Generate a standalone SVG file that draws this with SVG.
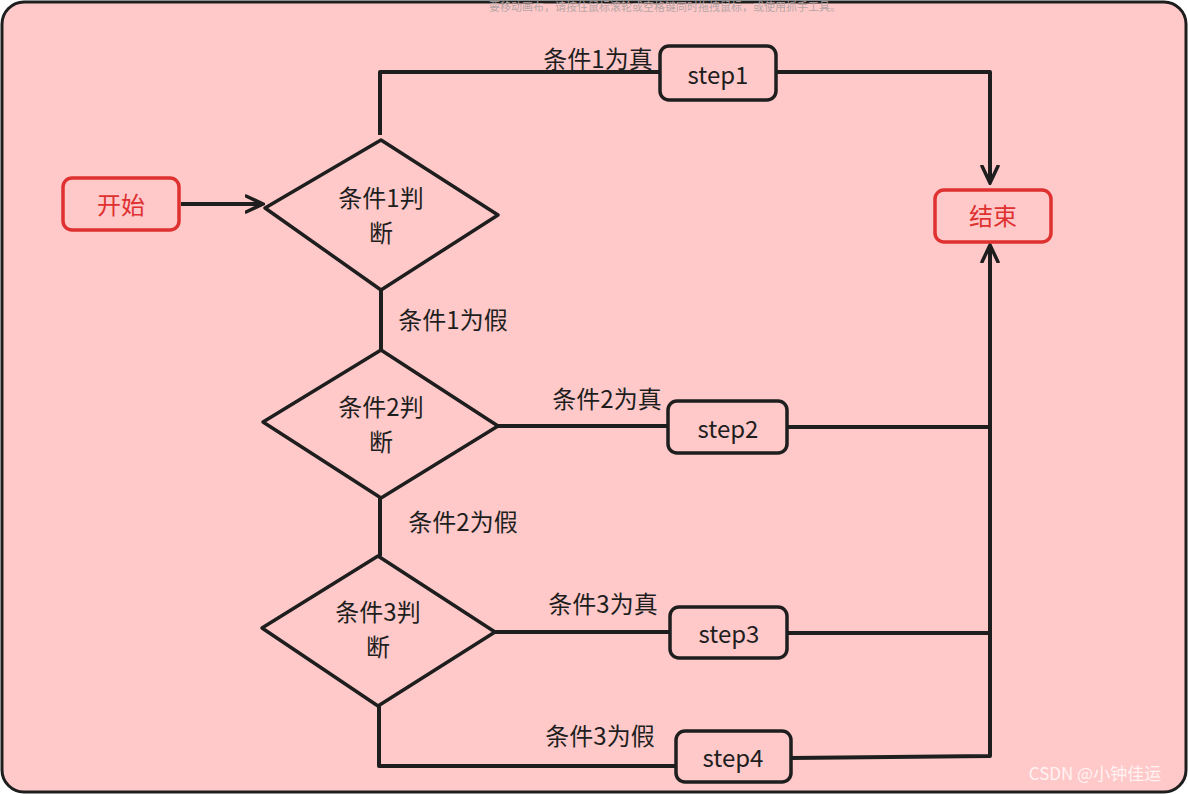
<svg xmlns="http://www.w3.org/2000/svg" width="1188" height="794" viewBox="0 0 1188 794">
<defs>
<style>
.n{fill:none;stroke:#1e1e1e;stroke-width:3.5;stroke-linejoin:round}
.r{fill:none;stroke:#e03131;stroke-width:3.5}
.t{font-family:"Noto Sans CJK SC","Noto Sans",sans-serif;font-size:24px;fill:#1e1e1e;text-anchor:middle;dominant-baseline:central}
.c{fill:none;stroke:#1e1e1e;stroke-width:4;stroke-linejoin:round}
</style>
<marker id="a" markerWidth="20" markerHeight="20" refX="17" refY="10" orient="auto" markerUnits="userSpaceOnUse"><path d="M1,2 L18,10 L1,18" fill="none" stroke="#1e1e1e" stroke-width="3.5" stroke-linecap="round"/></marker>
</defs>
<rect x="2" y="2" width="1184" height="790" rx="22" fill="#ffc9c9" stroke="#1e1e1e" stroke-width="3"/>
<text x="665" y="11" font-family="Noto Sans CJK SC,sans-serif" font-size="11" fill="#b5a5a5" text-anchor="middle">要移动画布，请按住鼠标滚轮或空格键同时拖拽鼠标，或使用抓手工具。</text>
<g id="connectors">
<path class="c" d="M181,204 L262,204" marker-end="url(#a)"/>
<path class="c" d="M380,135 L380,72 L660,72"/>
<path class="c" d="M776,72 L990,72 L990,182" marker-end="url(#a)"/>
<path class="c" d="M381,290 L381,350"/>
<path class="c" d="M498,426 L668,426"/>
<path class="c" d="M787,427 L990,427"/>
<path class="c" d="M380,498 L380,556"/>
<path class="c" d="M495,632 L670,632"/>
<path class="c" d="M787,633 L990,633"/>
<path class="c" d="M379,706 L379,766 L676,766"/>
<path class="c" d="M791,758 L990,756 L990,246" marker-end="url(#a)"/>
<text class="t" x="598" y="57">条件1为真</text>
<text class="t" x="453" y="318">条件1为假</text>
<text class="t" x="607" y="397">条件2为真</text>
<text class="t" x="463" y="520">条件2为假</text>
<text class="t" x="603" y="602">条件3为真</text>
<text class="t" x="600" y="734">条件3为假</text>
</g>
<g id="start"><rect class="r" x="63" y="178" width="116" height="52" rx="9"/><text class="t" x="121" y="203" style="fill:#e03131">开始</text></g>
<g id="d1"><path class="n" d="M381,140 L498,215 L381,290 L265,208 Z"/><text class="t" x="381" y="196">条件1判</text><text class="t" x="381" y="231">断</text></g>
<g id="step1"><rect class="n" x="660" y="46" width="116" height="54" rx="9"/><text class="t" x="718" y="73">step1</text></g>
<g id="end"><rect class="r" x="935" y="190" width="116" height="52" rx="9"/><text class="t" x="993" y="214" style="fill:#e03131">结束</text></g>
<g id="d2"><path class="n" d="M381,350 L498,426 L381,498 L263,422 Z"/><text class="t" x="381" y="405">条件2判</text><text class="t" x="381" y="440">断</text></g>
<g id="step2"><rect class="n" x="668" y="401" width="119" height="52" rx="9"/><text class="t" x="728" y="427">step2</text></g>
<g id="d3"><path class="n" d="M378,556 L495,632 L378,706 L262,628 Z"/><text class="t" x="378" y="610">条件3判</text><text class="t" x="378" y="645">断</text></g>
<g id="step3"><rect class="n" x="670" y="607" width="117" height="51" rx="9"/><text class="t" x="729" y="632">step3</text></g>
<g id="step4"><rect class="n" x="676" y="731" width="115" height="51" rx="9"/><text class="t" x="733" y="756">step4</text></g>
<text x="1095" y="780" font-family="Noto Sans CJK SC,sans-serif" font-size="17" fill="#ffffff" fill-opacity="0.8" text-anchor="middle">CSDN @小钟佳运</text>
</svg>
